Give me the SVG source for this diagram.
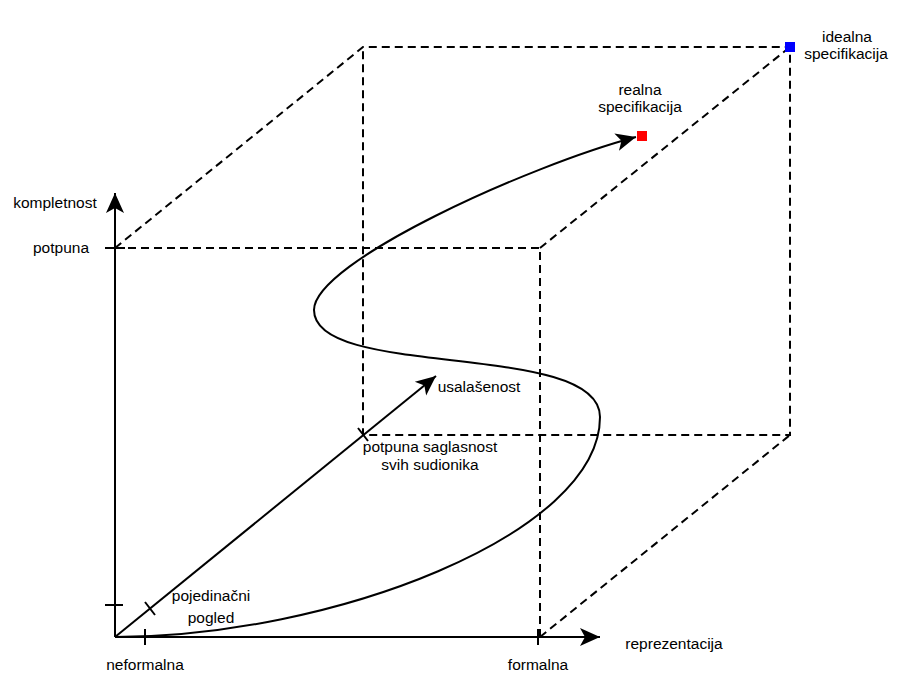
<svg xmlns="http://www.w3.org/2000/svg" width="908" height="697" viewBox="0 0 908 697">
<style>
.t{font-family:"Liberation Sans",Arial,sans-serif;font-size:15.5px;fill:#000;text-anchor:middle}
.d{fill:none;stroke:#000;stroke-width:2;stroke-dasharray:8 5}
.s{fill:none;stroke:#000;stroke-width:2}
</style>
<defs>
<marker id="arr" markerUnits="userSpaceOnUse" markerWidth="22" markerHeight="20" viewBox="0 0 22 20" refX="21" refY="10" orient="auto">
<path d="M21,10 L1,1 L6,10 L1,19 Z" fill="#000"/>
</marker>
</defs>
<rect width="908" height="697" fill="#fff"/>
<g id="cube">
<path class="d" d="M115,248 L540,248 L540,637"/>
<path class="d" d="M115,248 L363,47 L790,47 L790,435 L363,435 L363,47"/>
<path class="d" d="M540,248 L790,47"/>
<path class="d" d="M540,637 L790,435"/>
</g>
<g id="connectors">
<path class="s" d="M115,637 L115,193" marker-end="url(#arr)"/>
<path class="s" d="M115,637 L600,637" marker-end="url(#arr)"/>
<path class="s" d="M115,637 L436,376" marker-end="url(#arr)"/>
<path class="s" d="M115,637 C330,637 600,535 600,417 C600,340 314,380 314,310 C314,262 530,165 636,137" marker-end="url(#arr)"/>
<path class="s" d="M105,248 L125,248 M105,605 L123,605 M145,629 L145,645 M538,629 L538,645 M145,602 L155,615 M358,428 L368,441"/>
</g>
<g id="axis-kompletnost"><text class="t" x="55" y="208">kompletnost</text></g>
<g id="label-potpuna"><text class="t" x="61" y="253">potpuna</text></g>
<g id="label-neformalna"><text class="t" x="145" y="670">neformalna</text></g>
<g id="label-formalna"><text class="t" x="538" y="670">formalna</text></g>
<g id="axis-reprezentacija"><text class="t" x="674" y="649">reprezentacija</text></g>
<g id="label-pojedinacni"><text class="t" x="211" y="601">pojedinačni</text><text class="t" x="211" y="623">pogled</text></g>
<g id="axis-usalasenost"><text class="t" x="479" y="392">usalašenost</text></g>
<g id="label-saglasnost"><text class="t" x="430" y="452">potpuna saglasnost</text><text class="t" x="430" y="470">svih sudionika</text></g>
<g id="realna"><rect x="637" y="131" width="10" height="10" fill="#ff0000"/><text class="t" x="640" y="95">realna</text><text class="t" x="640" y="112">specifikacija</text></g>
<g id="idealna"><rect x="785" y="42" width="10" height="10" fill="#0000ff"/><text class="t" x="847" y="42">idealna</text><text class="t" x="846" y="59">specifikacija</text></g>
</svg>
